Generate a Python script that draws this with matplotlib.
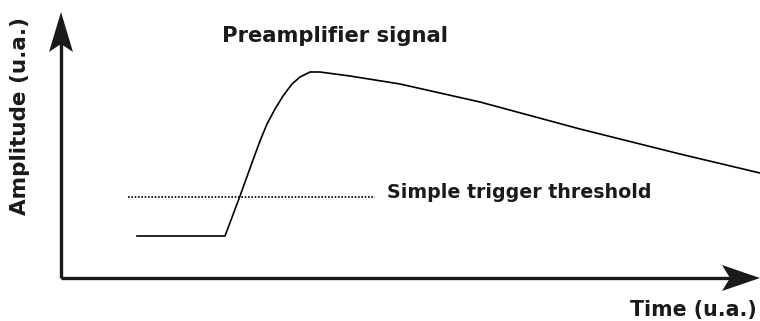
import numpy as np
import matplotlib.pyplot as plt
from matplotlib.patches import Polygon

# preamplifier pulse, time and amplitude in arbitrary units
time = [76, 164, 179, 192, 199, 206, 214, 222, 231, 239, 249, 259, 289, 339, 419, 519, 619, 699]
amplitude = [42, 42, 82, 118, 137, 154, 169, 182, 194, 201, 206, 206, 202, 194, 176, 149, 124, 105]

threshold = 81
threshold_span = [67, 314]

fig = plt.figure(figsize=(7.6, 3.21), dpi=100)
ax = fig.add_axes([0, 0, 1, 1])
ax.set_xlim(-61, 699)
ax.set_ylim(-43, 278)
ax.axis("off")

# axes drawn as arrows
ax.plot([0, 0], [0, 240], c="#1a1a1a", lw=2.4, solid_capstyle="butt")
ax.plot([0, 670], [0, 0], c="#1a1a1a", lw=2.4, solid_capstyle="butt")
head_y = Polygon([[0, 266], [-12, 226], [0, 234], [12, 226]], closed=True, fc="#1a1a1a", ec="none")
head_x = Polygon([[699, 0], [661, 13], [669, 0], [661, -13]], closed=True, fc="#1a1a1a", ec="none")
ax.add_patch(head_y)
ax.add_patch(head_x)

ax.plot(time, amplitude, c="black", lw=1.2, solid_joinstyle="round")
ax.plot(threshold_span, [threshold, threshold], c="black", lw=1.2, ls=(0, (1, 1)))

ax.text(274, 242, "Preamplifier signal", fontsize=15.2, fontweight="bold", ha="center", va="center",
        color="#1a1a1a")
ax.text(326, 85, "Simple trigger threshold", fontsize=13.7, fontweight="bold", ha="left", va="center",
        color="#1a1a1a")
ax.text(696, -32, "Time (u.a.)", fontsize=14.8, fontweight="bold", ha="right", va="center",
        color="#1a1a1a")
ax.text(-41, 162, "Amplitude (u.a.)", fontsize=15.5, fontweight="bold", ha="center", va="center",
        rotation=90, color="#1a1a1a")

fig.savefig("out.png", dpi=100)
